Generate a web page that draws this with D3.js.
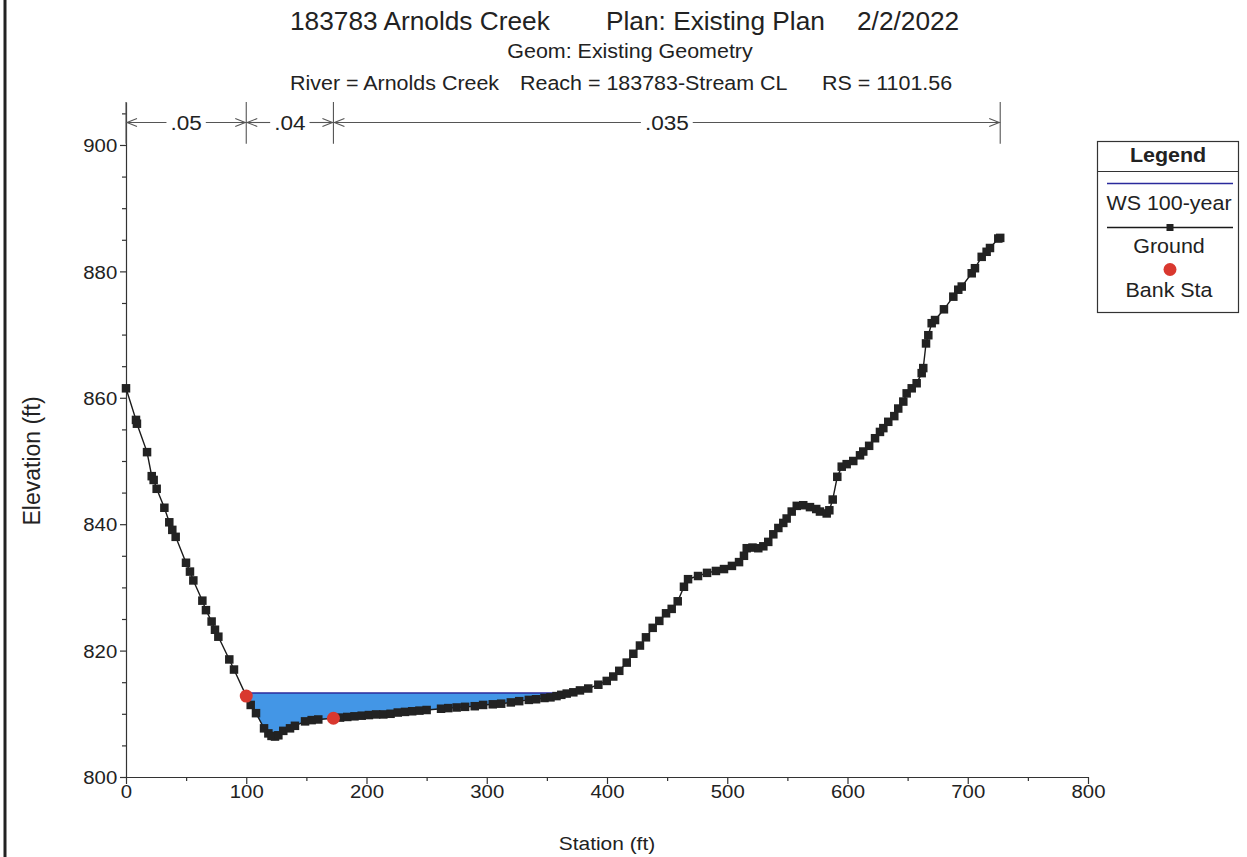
<!DOCTYPE html>
<html><head><meta charset="utf-8">
<script src="https://cdn.jsdelivr.net/npm/d3@7"></script>
<style>body{margin:0;background:#fff} text{font-family:"Liberation Sans",Arial,sans-serif;fill:#222}</style>
</head><body><svg id="c" width="1247" height="857"></svg>
<script>
// ---- data ----
const station = [0, 8.3, 9.1, 17.5, 21.4, 23, 25.5, 31.9, 36, 38.5,
  41.3, 49.9, 53.2, 56, 63.5, 66.5, 71.2, 74, 76.8, 85.9,
  89.8, 100, 103.7, 108.1, 114.8, 118.4, 121, 123.9, 126.7, 130.8, 136.4,
  140.5, 148.9, 154.4, 159.9, 172.5, 178, 184, 190, 196, 202, 208, 214, 220, 226, 232, 238,
  244, 250, 262, 268, 275, 282, 290, 297, 305, 312, 320, 327, 335, 341, 348, 353, 358, 362, 366.5,
  372, 377.5, 384.4, 392.8, 399.8, 405.2, 410.2, 416.4, 421.9, 427.4, 432.4,
  438, 443.5, 449.1, 453.8, 458.8, 464, 467.4, 475.7, 483.2, 490.6,
  497.3, 503.9, 509.8, 513.9, 516.2, 521, 525.8, 530, 534.1, 538.3, 542.5, 546.6,
  549.4, 553.6, 557.8, 563.2, 568.8, 574, 577.1, 582.7, 584.9, 587.7, 591.5,
  595.2, 599.3, 604.8, 610.4, 613.1, 618, 622.9, 627, 629.8, 633.9, 638.9,
  642.2, 646.4, 649.2, 653.4, 657.5, 661.7, 663, 665.3, 667.2, 670,
  672.8, 680.2, 688, 692.1, 695, 703.3, 706, 711.6, 715.7, 718.5,
  725.4, 727];
const elevation = [861.5, 856.5, 855.9, 851.4, 847.6, 847, 845.6, 842.6, 840.3, 839.1,
  838, 833.9, 832.5, 831.1, 827.9, 826.4, 824.6, 823.3, 822.2, 818.6,
  817, 812.8, 811.4, 810.1, 807.7, 806.9, 806.5, 806.4, 806.6, 807.3, 807.7,
  808.1, 808.8, 809, 809.1, 809.3, 809.4, 809.5, 809.6, 809.7, 809.8, 809.9, 809.9, 810, 810.2, 810.3, 810.4,
  810.5, 810.6, 810.8, 810.9, 811, 811.1, 811.2, 811.4, 811.5, 811.6, 811.8, 812, 812.2, 812.3, 812.5, 812.6, 812.8, 813, 813.2,
  813.4, 813.7, 814, 814.6, 815.2, 815.9, 816.8, 818.1, 819.5, 820.8, 822.1,
  823.6, 824.7, 825.9, 826.6, 827.8, 830.1, 831.3, 831.8, 832.3, 832.6,
  832.9, 833.4, 834, 835, 836.2, 836.3, 836.2, 836.5, 837.2, 838.4, 839.4, 840.2,
  840.9, 842, 842.9, 843, 842.7, 842.4, 842, 841.7, 842.2, 843.9, 847.5,
  849.1, 849.5, 850, 850.9, 851.5, 852.4, 853.6, 854.6, 855.2, 856.2, 857.1,
  858.3, 859.4, 860.7, 861.5, 862.3, 863.9, 864.7, 868.6, 869.9, 871.8,
  872.3, 874, 876, 877.1, 877.6, 879.7, 880.5, 882.3, 883.1, 883.7,
  885.2, 885.3];
const wsElev = 813.3;                 // WS 100-year
const bankStation = [100, 172.5];
const bankElev = [812.8, 809.3];
const nStations = [0, 100, 172.5, 727];
const nValues = [".05", ".04", ".035"];
const xTicks = [0, 100, 200, 300, 400, 500, 600, 700, 800];
const yTicks = [800, 820, 840, 860, 880, 900];
const titleParts = ["183783 Arnolds Creek", "Plan: Existing Plan", "2/2/2022"];
const subtitle = "Geom: Existing Geometry";
const infoParts = ["River = Arnolds Creek", "Reach = 183783-Stream CL", "RS = 1101.56"];
const legendItems = ["WS 100-year", "Ground", "Bank Sta"];

// ---- layout ----
const SX = 1.1;
const svg = d3.select("#c");
const x = d3.scaleLinear().domain([0, 800]).range([126, 1088]);
const y = d3.scaleLinear().domain([800, 906.8]).range([777, 102]);

function txt(g, px, py, s, size, anchor, weight, sx) {
  return g.append("text").attr("transform", `translate(${px},${py}) scale(${sx || SX},1)`)
    .attr("text-anchor", anchor || "start").attr("font-size", size)
    .attr("font-weight", weight || "normal").text(s);
}

// left border of page
svg.append("line").attr("x1", 5).attr("x2", 5).attr("y1", 0).attr("y2", 857)
  .attr("stroke", "#222").attr("stroke-width", 3);

// titles
const tx = [290, 606, 857];
titleParts.forEach((t, i) => txt(svg, tx[i], 30, t, 25.5, "start", "normal", 1.03));
txt(svg, 630, 58, subtitle, 19.5, "middle");
const ix = [290, 520, 822];
infoParts.forEach((t, i) => txt(svg, ix[i], 90, t, 19.5));

// water fill
const pts = station.map((s, i) => ({s, e: elevation[i]}));
const wet = [];
for (let i = 0; i < pts.length - 1; i++) {
  const a = pts[i], b = pts[i + 1];
  if (a.s < bankStation[0]) continue;
  const aw = a.e <= wsElev, bw = b.e <= wsElev;
  if (aw) wet.push(a);
  if (aw !== bw) {
    const t = (wsElev - a.e) / (b.e - a.e);
    wet.push({s: a.s + t * (b.s - a.s), e: wsElev});
  }
  if (!bw && aw) break;
}
wet.unshift({s: bankStation[0], e: wsElev});
svg.append("path").datum(wet)
  .attr("d", d3.area().x(d => x(d.s)).y0(d => y(d.e)).y1(y(wsElev)))
  .attr("fill", "#4396e6");
svg.append("line").attr("x1", x(wet[0].s)).attr("x2", x(wet[wet.length - 1].s) + 8)
  .attr("y1", y(wsElev)).attr("y2", y(wsElev)).attr("stroke", "#2a2a9c").attr("stroke-width", 1.5);

// axes
const gy = svg.append("g").attr("transform", `translate(${x(0)},0)`)
  .call(d3.axisLeft(y).tickValues(yTicks).tickSize(6).tickSizeOuter(0).tickPadding(2));
const gyMinor = svg.append("g").attr("transform", `translate(${x(0)},0)`)
  .call(d3.axisLeft(y).tickValues(d3.range(805, 906, 5).filter(v => v % 20 !== 0)).tickSize(4).tickFormat(""));
gyMinor.select(".domain").remove();
const gx = svg.append("g").attr("transform", `translate(0,${y(800)})`)
  .call(d3.axisBottom(x).tickValues(xTicks).tickSize(7).tickSizeOuter(0).tickPadding(1));
const gxMinor = svg.append("g").attr("transform", `translate(0,${y(800)})`)
  .call(d3.axisBottom(x).tickValues(d3.range(50, 800, 100)).tickSize(4).tickFormat(""));
gxMinor.select(".domain").remove();
[gy, gx, gyMinor, gxMinor].forEach(g => {
  g.selectAll("path,line").attr("stroke", "#333").attr("stroke-width", 1.2);
  g.selectAll("text").attr("font-size", 18.5).attr("fill", "#222")
    .attr("font-family", '"Liberation Sans",Arial,sans-serif');
});
gy.selectAll(".tick text").attr("transform", `scale(${SX},1)`).attr("dy", "0.36em");
gx.selectAll(".tick text").attr("transform", `scale(${SX},1)`).attr("dy", "0.71em");

// axis titles
txt(svg, 607, 850, "Station (ft)", 19, "middle");
svg.append("text").attr("transform", `translate(40,461) rotate(-90)`)
  .attr("text-anchor", "middle").attr("font-size", 23).text("Elevation (ft)");

// n-values
const ny = 122.5;
const gn = svg.append("g").attr("stroke", "#555").attr("stroke-width", 1.1).attr("fill", "none");
nStations.forEach(s => {
  gn.append("line").attr("x1", x(s)).attr("x2", x(s)).attr("y1", y(906.8)).attr("y2", y(900.2));
});
nValues.forEach((v, i) => {
  const x1 = x(nStations[i]), x2 = x(nStations[i + 1]), m = (x1 + x2) / 2;
  const t = txt(svg, m, ny + 7, v, 20.5, "middle");
  const w = t.node().getComputedTextLength() * SX;
  gn.append("line").attr("x1", x1).attr("x2", m - w / 2 - 4).attr("y1", ny).attr("y2", ny);
  gn.append("line").attr("x1", m + w / 2 + 4).attr("x2", x2).attr("y1", ny).attr("y2", ny);
  gn.append("path").attr("d", `M${x1 + 11},${ny - 4}L${x1 + 1},${ny}L${x1 + 11},${ny + 4}`);
  gn.append("path").attr("d", `M${x2 - 11},${ny - 4}L${x2 - 1},${ny}L${x2 - 11},${ny + 4}`);
});

// ground
svg.append("path").datum(pts)
  .attr("d", d3.line().x(d => x(d.s)).y(d => y(d.e)))
  .attr("fill", "none").attr("stroke", "#1a1a1a").attr("stroke-width", 1.4);
svg.append("g").selectAll("rect").data(pts).join("rect")
  .attr("x", d => x(d.s) - 4.25).attr("y", d => y(d.e) - 4.25)
  .attr("width", 8.5).attr("height", 8.5).attr("fill", "#222");

// bank stations
svg.append("g").selectAll("circle").data(bankStation).join("circle")
  .attr("cx", d => x(d)).attr("cy", (d, i) => y(bankElev[i])).attr("r", 6.5)
  .attr("fill", "#d9382f");

// legend
const lg = svg.append("g");
lg.append("rect").attr("x", 1097.5).attr("y", 141.5).attr("width", 141).attr("height", 171)
  .attr("fill", "#fff").attr("stroke", "#333").attr("stroke-width", 1.2);
lg.append("line").attr("x1", 1097.5).attr("x2", 1238.5).attr("y1", 171.5).attr("y2", 171.5)
  .attr("stroke", "#333").attr("stroke-width", 1.2);
txt(lg, 1168, 162, "Legend", 19.5, "middle", "bold");
lg.append("line").attr("x1", 1107).attr("x2", 1233).attr("y1", 183.5).attr("y2", 183.5)
  .attr("stroke", "#2a2a9c").attr("stroke-width", 1.5);
txt(lg, 1169, 210, legendItems[0], 19.5, "middle");
lg.append("line").attr("x1", 1107).attr("x2", 1233).attr("y1", 227.5).attr("y2", 227.5)
  .attr("stroke", "#1a1a1a").attr("stroke-width", 1.4);
lg.append("rect").attr("x", 1166.5).attr("y", 224).attr("width", 7).attr("height", 7).attr("fill", "#222");
txt(lg, 1169, 253, legendItems[1], 19.5, "middle");
lg.append("circle").attr("cx", 1170).attr("cy", 269.5).attr("r", 6.5).attr("fill", "#d9382f");
txt(lg, 1169, 297, legendItems[2], 19.5, "middle");
</script></body></html>
